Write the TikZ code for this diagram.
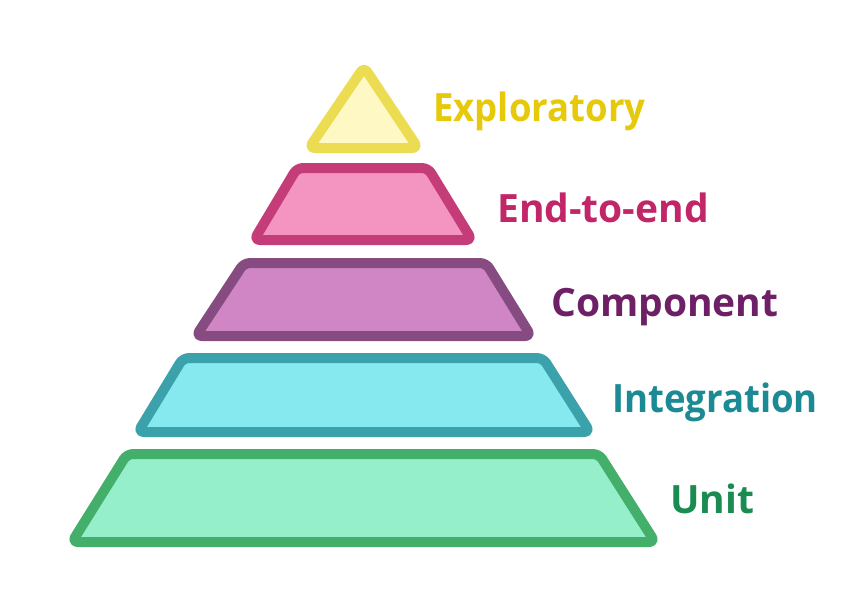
\documentclass[tikz,border=0pt]{standalone}
\usepackage{fontspec}
\setmainfont{Open Sans}
\newfontfamily\narrowfont[FakeStretch=0.937]{Open Sans}
\definecolor{exS}{HTML}{EBDC52}\definecolor{exF}{HTML}{FEF9C4}\definecolor{exT}{HTML}{E6C90A}
\definecolor{eeS}{HTML}{C43C78}\definecolor{eeF}{HTML}{F494C1}\definecolor{eeT}{HTML}{C02668}
\definecolor{coS}{HTML}{864C82}\definecolor{coF}{HTML}{D085C5}\definecolor{coT}{HTML}{6E2066}
\definecolor{inS}{HTML}{3BA2AB}\definecolor{inF}{HTML}{85E9EF}\definecolor{inT}{HTML}{1C8A94}
\definecolor{unS}{HTML}{44AF6A}\definecolor{unF}{HTML}{94EFCA}\definecolor{unT}{HTML}{1A8C52}
\tikzset{
  layer/.style={line width=10pt, line join=round, rounded corners=6pt},
  lbl/.style={anchor=base west, inner sep=0pt, font=\fontsize{39}{39}\selectfont\bfseries},
  narrowlbl/.style={lbl, font=\narrowfont\fontsize{39}{39}\selectfont\bfseries},
}
\begin{document}
\begin{tikzpicture}[x=1pt,y=-1pt]
\useasboundingbox (0,0) rectangle (868,592);
% layers
\draw[layer, draw=exS, fill=exF] (364,67) -- (418,148) -- (309,148) -- cycle;
\draw[layer, draw=eeS, fill=eeF] (297,168) -- (428,168) -- (472,240) -- (254,240) -- cycle;
\draw[layer, draw=coS, fill=coF] (244,263) -- (486,263) -- (531,336) -- (196,336) -- cycle;
\draw[layer, draw=inS, fill=inF] (183,358) -- (543,358) -- (590,432) -- (138,432) -- cycle;
\draw[layer, draw=unS, fill=unF] (127,454) -- (599,454) -- (655,542) -- (72,542) -- cycle;
% labels
\node[narrowlbl, text=exT] (lex) at (433,121) {Exploratory};
\node[lbl, text=eeT] (lee) at (497,222) {End-to-end};
\node[lbl, text=coT] (lco) at (551,316) {Component};
\node[narrowlbl, text=inT] (lin) at (612,412) {Integration};
\node[lbl, text=unT] (lun) at (670,513) {Unit};
\end{tikzpicture}
\end{document}
